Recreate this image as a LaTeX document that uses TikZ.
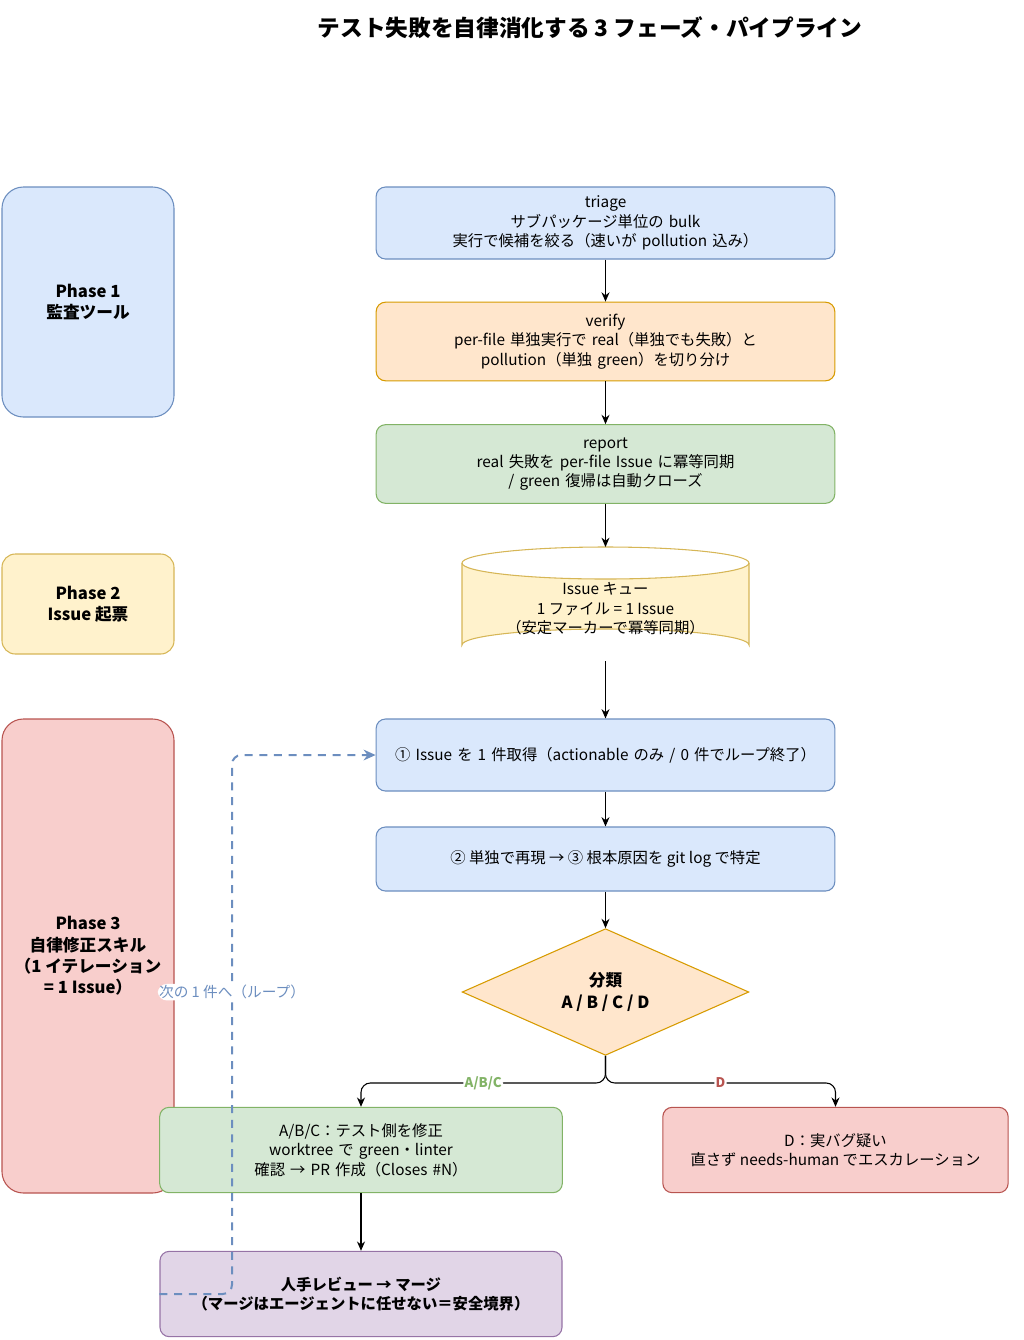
\documentclass[tikz,border=0pt]{standalone}
\usepackage{fontspec}
\setmainfont{Noto Sans CJK JP}
\usetikzlibrary{shapes.geometric,arrows.meta}
\definecolor{bF}{HTML}{DAE8FC}\definecolor{bD}{HTML}{6C8EBF}
\definecolor{oF}{HTML}{FFE6CC}\definecolor{oD}{HTML}{D79B00}
\definecolor{gF}{HTML}{D5E8D4}\definecolor{gD}{HTML}{82B366}
\definecolor{yF}{HTML}{FFF2CC}\definecolor{yD}{HTML}{D6B656}
\definecolor{rF}{HTML}{F8CECC}\definecolor{rD}{HTML}{B85450}
\definecolor{pF}{HTML}{E1D5E7}\definecolor{pD}{HTML}{9673A6}
\tikzset{
 box/.style={draw, rounded corners=7pt, line width=0.8pt, align=center, inner sep=2pt,
   font=\fontsize{11.5}{14.5}\selectfont},
 phase/.style={box, rounded corners=16pt, font=\fontsize{12.5}{16}\selectfont\bfseries},
 arr/.style={-{Stealth[length=7pt,width=6pt]}, line width=0.8pt, rounded corners=7pt},
}
\begin{document}
\begin{tikzpicture}[x=0.75pt,y=-0.75pt]
\useasboundingbox (0,0) rectangle (1024,1340);
\node[font=\fontsize{17}{20}\selectfont\bfseries] (title) at (590,28) {テスト失敗を自律消化する 3 フェーズ・パイプライン};
% phases
\node[phase, fill=bF, draw=bD, minimum width=129pt, minimum height=172.5pt] (p1) at (88,302) {Phase 1\\監査ツール};
\node[phase, fill=yF, draw=yD, rounded corners=10pt, minimum width=129pt, minimum height=75pt] (p2) at (88,604) {Phase 2\\Issue 起票};
\node[phase, fill=rF, draw=rD, minimum width=129pt, minimum height=355.5pt] (p3) at (88,956) {Phase 3\\自律修正スキル\\（1 イテレーション\\= 1 Issue）};
% phase 1 steps
\node[box, fill=bF, draw=bD, text width=340pt, minimum width=344pt, minimum height=54pt] (triage) at (605.5,223) {triage\\サブパッケージ単位の bulk 実行で候補を絞る（速いが pollution 込み）};
\node[box, fill=oF, draw=oD, text width=340pt, minimum width=344pt, minimum height=59pt] (verify) at (605.5,341.5) {verify\\per-file 単独実行で real（単独でも失敗）と pollution（単独 green）を切り分け};
\node[box, fill=gF, draw=gD, text width=340pt, minimum width=344pt, minimum height=59pt] (report) at (605.5,464) {report\\real 失敗を per-file Issue に冪等同期 / green 復帰は自動クローズ};
% cylinder
\fill[yF] (462,563) -- (462,645) arc[start angle=180,end angle=360,x radius=143.5,y radius=16] -- (749,563) arc[start angle=0,end angle=180,x radius=143.5,y radius=16] -- cycle;
\draw[yD, line width=0.8pt] (462,563) -- (462,645) arc[start angle=180,end angle=360,x radius=143.5,y radius=16] -- (749,563);
\draw[yD, line width=0.8pt] (605.5,563) ellipse[x radius=143.5,y radius=16];
\node[align=center, font=\fontsize{11.5}{14.5}\selectfont, minimum width=215pt, minimum height=85.5pt] (queue) at (605.5,604) {\\[2pt]Issue キュー\\1 ファイル = 1 Issue\\（安定マーカーで冪等同期）};
% phase 3
\node[box, fill=bF, draw=bD, text width=340pt, minimum width=344pt, minimum height=54pt] (s1) at (605.5,755) {① Issue を 1 件取得（actionable のみ / 0 件でループ終了）};
\node[box, fill=bF, draw=bD, minimum width=344pt, minimum height=48pt] (s2) at (605.5,859) {② 単独で再現 → ③ 根本原因を git log で特定};
\node[diamond, draw=oD, fill=oF, line width=0.8pt, aspect=2.26, minimum width=215pt, minimum height=95pt, inner sep=0pt, align=center, font=\fontsize{12.5}{16}\selectfont\bfseries] (cls) at (605.5,992) {分類\\A / B / C / D};
\node[box, fill=gF, draw=gD, text width=298pt, minimum width=301.5pt, minimum height=64pt] (abc) at (361,1150) {A/B/C：テスト側を修正\\worktree で green・linter 確認 → PR 作成（Closes \#N）};
\node[box, fill=rF, draw=rD, minimum width=259pt, minimum height=64pt] (d) at (835.5,1150) {D：実バグ疑い\\直さず needs-human でエスカレーション};
\node[box, fill=pF, draw=pD, minimum width=301.5pt, minimum height=64pt, font=\fontsize{11.5}{14.5}\selectfont\bfseries] (human) at (361,1294) {人手レビュー → マージ\\（マージはエージェントに任せない＝安全境界）};
% arrows
\draw[arr] (triage) -- (verify);
\draw[arr] (verify) -- (report);
\draw[arr] (report.south) -- (605.5,547);
\draw[arr] (605.5,661) -- (s1.north);
\draw[arr] (s1) -- (s2);
\draw[arr] (s2.south) -- (cls.north);
\draw[arr] (cls.south) -- (605.5,1083) -| node[pos=0.25, fill=white, inner sep=1pt, text=gD, font=\fontsize{10}{12}\selectfont\bfseries] (lab1) {A/B/C} (abc.north);
\draw[arr] (cls.south) -- (605.5,1083) -| node[pos=0.25, fill=white, inner sep=1pt, text=rD, font=\fontsize{10}{12}\selectfont\bfseries] (lab2) {D} (d.north);
\draw[arr] (abc) -- (human);
\draw[-{Stealth[length=9pt,width=8pt]}, draw=bD, line width=1.5pt, dash pattern=on 6pt off 5pt, rounded corners=7pt]
  (human.west) -- (232,1294) -- node[pos=0.56, fill=white, inner sep=1pt, text=bD, font=\fontsize{11}{13}\selectfont] (loopl) {次の 1 件へ（ループ）} (232,755) -- (s1.west);
\end{tikzpicture}
\end{document}
